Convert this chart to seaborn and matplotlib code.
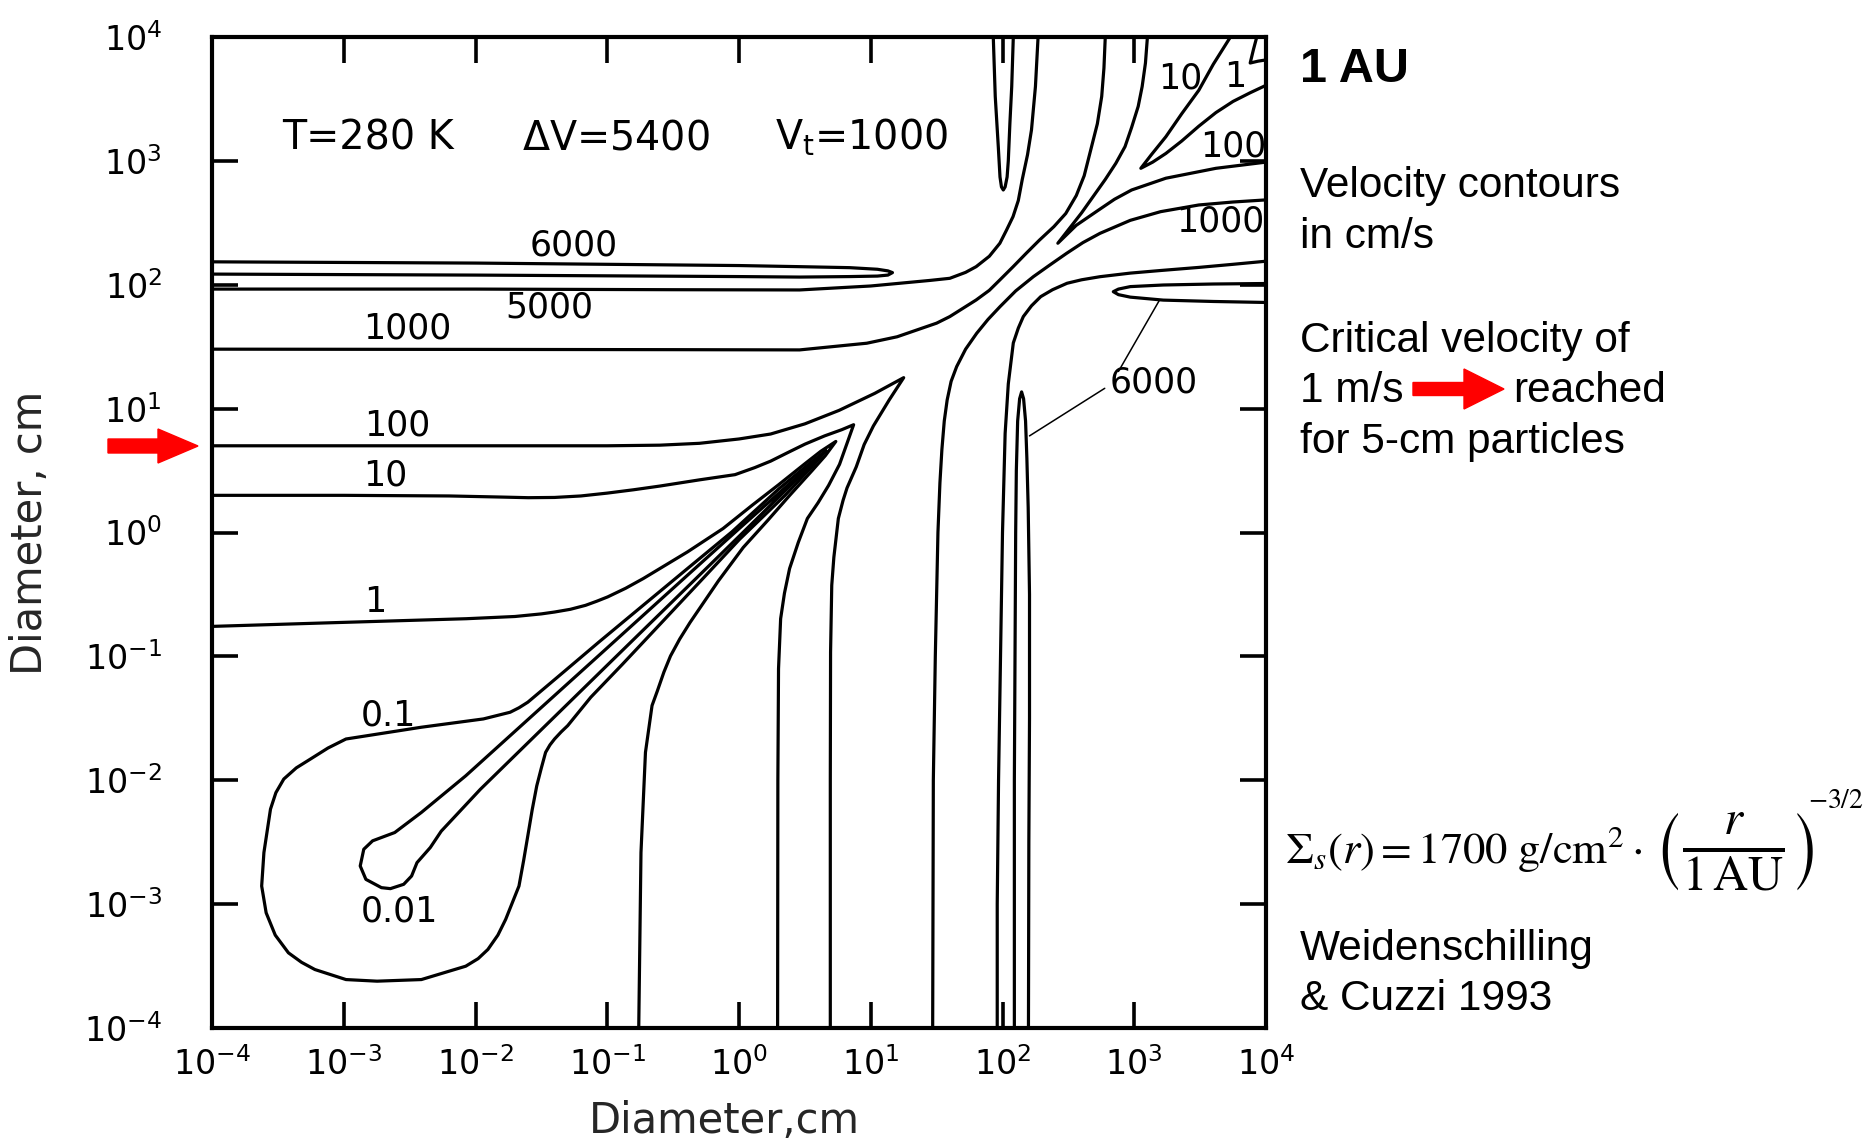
"""
Weidenschilling & Cuzzi (1993) relative velocity contours at 1 AU
"""
import numpy as np
import matplotlib
matplotlib.use("Agg")
import matplotlib.pyplot as plt
import seaborn as sns
from matplotlib.patches import FancyArrow

sns.set_theme(style="white")
plt.rcParams["font.family"] = ["DejaVu Sans"]
plt.rcParams["mathtext.fontset"] = "dejavusans"

# ── contour paths: log10(diameter / cm) ───────────────────────────────────────
# 6000 cm/s
V6000_LEFT_X = [-4, -3, -2, -1, 0, 0.46, 0.84, 1.05, 1.13, 1.165, 1.13, 1.05, 0.84, 0.46, 0, -1, -2, -3, -4]
V6000_LEFT_Y = [2.185, 2.18, 2.175, 2.165, 2.155, 2.146, 2.138, 2.125, 2.112, 2.098, 2.078, 2.07, 2.066, 2.062, 2.066, 2.072, 2.078, 2.082, 2.086]
V6000_BOT_X = [2.09, 2.09, 2.095, 2.10, 2.105, 2.115, 2.13, 2.145, 2.16, 2.175, 2.185, 2.195, 2.205, 2.205, 2.20, 2.197]
V6000_BOT_Y = [-4, -2, -1, 0, 0.5, 0.9, 1.08, 1.135, 1.08, 0.9, 0.6, 0.2, -0.5, -1.5, -2.5, -4]
V6000_TOP_X = [1.93, 1.945, 1.968, 1.981, 1.992, 2.006, 2.02, 2.035, 2.044, 2.056, 2.07, 2.082]
V6000_TOP_Y = [4, 3.52, 3.115, 2.87, 2.79, 2.765, 2.79, 2.87, 3.0, 3.3, 3.6, 4]
V6000_RIGHT_X = [4, 3.6, 3.22, 2.97, 2.88, 2.841, 2.88, 2.97, 3.22, 3.6, 4]
V6000_RIGHT_Y = [2.01, 2.006, 1.998, 1.985, 1.965, 1.944, 1.92, 1.90, 1.876, 1.865, 1.857]
# 5000 cm/s
V5000_UL_X = [-4, -2, -0.5, 0.46, 1.0, 1.22, 1.45, 1.6, 1.72, 1.8, 1.9, 1.98, 2.03, 2.08, 2.12, 2.15, 2.19, 2.22, 2.25, 2.27]
V5000_UL_Y = [1.965, 1.965, 1.96, 1.958, 1.99, 2.012, 2.035, 2.052, 2.1, 2.146, 2.23, 2.335, 2.44, 2.55, 2.68, 2.85, 3.05, 3.25, 3.6, 4.0]
V5000_LR_X = [1.96, 1.96, 1.97, 1.985, 2.0, 2.01, 2.02, 2.044, 2.082, 2.12, 2.158, 2.22, 2.29, 2.38, 2.49, 2.6, 2.74, 2.97, 3.2, 3.49, 3.75, 4.0]
V5000_LR_Y = [-4, -3, -2, -1, 0, 0.4, 0.8, 1.2, 1.53, 1.65, 1.743, 1.83, 1.904, 1.96, 2.012, 2.04, 2.065, 2.094, 2.115, 2.14, 2.165, 2.19]
# 1000 cm/s
V1000_UL_X = [-4, -2, -0.5, 0.46, 0.97, 1.2, 1.35, 1.5, 1.6, 1.7, 1.8, 1.9, 1.98, 2.08, 2.18, 2.28, 2.39, 2.48, 2.56, 2.62, 2.676, 2.72, 2.753, 2.77, 2.78]
V1000_UL_Y = [1.48, 1.478, 1.476, 1.474, 1.528, 1.58, 1.635, 1.69, 1.743, 1.81, 1.877, 1.955, 2.039, 2.145, 2.254, 2.36, 2.469, 2.575, 2.72, 2.88, 3.115, 3.3, 3.52, 3.75, 4.0]
V1000_LR_X = [1.47, 1.475, 1.49, 1.51, 1.525, 1.54, 1.558, 1.58, 1.61, 1.652, 1.72, 1.804, 1.89, 1.981, 2.1, 2.234, 2.36, 2.487, 2.61, 2.74, 2.97, 3.2, 3.49, 3.75, 4.0]
V1000_LR_Y = [-4, -2, -1, 0, 0.4, 0.67, 0.9, 1.07, 1.22, 1.339, 1.48, 1.608, 1.72, 1.823, 1.95, 2.065, 2.16, 2.254, 2.34, 2.415, 2.52, 2.59, 2.644, 2.668, 2.685]
# 100 cm/s
V100_UR_X = [3.10, 3.085, 3.06, 3.03, 2.98, 2.93, 2.86, 2.78, 2.6, 2.42, 2.56, 2.725, 2.85, 2.98, 3.24, 3.62, 4.0]
V100_UR_Y = [4.0, 3.79, 3.6, 3.44, 3.27, 3.115, 2.98, 2.85, 2.58, 2.335, 2.48, 2.60, 2.69, 2.765, 2.86, 2.94, 2.99]
V100_LL_X = [-4, -3, -2, -1, -0.6, -0.3, 0.0, 0.24, 0.5, 0.76, 1.03, 1.25, 1.14, 1.02, 0.95, 0.89, 0.82, 0.79, 0.754,
             0.72, 0.704, 0.695, 0.693, 0.693]
V100_LL_Y = [0.70, 0.70, 0.70, 0.70, 0.705, 0.72, 0.755, 0.795, 0.877, 0.986, 1.123, 1.25, 1.07, 0.86, 0.71, 0.53, 0.36, 0.26, 0.113,
             -0.2, -0.426, -0.966, -2.0, -4]
# 10 cm/s
V10_UR_X = [3.73, 3.6, 3.49, 3.36, 3.24, 3.13, 3.05, 3.14, 3.24, 3.36, 3.49, 3.62, 3.75, 3.88, 4.0]
V10_UR_Y = [4.0, 3.78, 3.57, 3.38, 3.195, 3.05, 2.94, 2.99, 3.06, 3.16, 3.28, 3.39, 3.48, 3.55, 3.61]
V10_LL_X = [-4, -3, -2.2, -1.8, -1.6, -1.4, -1.2, -1.0, -0.8, -0.6, -0.3, -0.03, 0.12, 0.24, 0.37, 0.5, 0.65, 0.78, 0.87,
            0.82, 0.763, 0.68, 0.60, 0.519, 0.45, 0.384, 0.345, 0.316, 0.30, 0.295, 0.293]
V10_LL_Y = [0.30, 0.30, 0.295, 0.286, 0.281, 0.283, 0.295, 0.318, 0.345, 0.375, 0.425, 0.467, 0.524, 0.576, 0.645, 0.713, 0.78, 0.83, 0.87,
            0.72, 0.55, 0.38, 0.24, 0.113, -0.08, -0.291, -0.49, -0.696, -1.10, -2.0, -4]
# 1 cm/s
V1_UR_X = [3.93, 3.905, 3.88, 3.94, 4.0]
V1_UR_Y = [4.0, 3.9, 3.79, 3.805, 3.815]
V1_LL_X = [-4, -3.08, -2.07, -1.7, -1.5, -1.40, -1.28, -1.165, -1.08, -0.997, -0.86, -0.727, -0.56, -0.39, -0.121, 0.1, 0.3, 0.5, 0.62, 0.735,
           0.655, 0.555, 0.385, 0.22, 0.032, -0.156, -0.265, -0.372, -0.45, -0.52, -0.57, -0.62, -0.66, -0.71, -0.744, -0.761]
V1_LL_Y = [-0.758, -0.728, -0.696, -0.678, -0.657, -0.642, -0.62, -0.588, -0.555, -0.52, -0.45, -0.372, -0.265, -0.156, 0.032, 0.22, 0.385, 0.555, 0.655, 0.735,
           0.62, 0.5, 0.3, 0.1, -0.121, -0.39, -0.56, -0.727, -0.86, -0.997, -1.127, -1.28, -1.397, -1.775, -2.584, -4]
# 0.1 cm/s (closed teardrop)
V01_X = [0.66, 0.55, 0.3, -0.054, -0.391, -0.73, -1.064, -1.33, -1.603, -1.67, -1.737, -1.94, -2.411, -2.983, -3.12,
         -3.253, -3.36, -3.455, -3.515, -3.556, -3.606, -3.623, -3.589, -3.52, -3.42, -3.32, -3.219, -2.983, -2.747,
         -2.411, -2.074, -1.98, -1.906, -1.83, -1.771, -1.67, -1.635, -1.603, -1.57, -1.535, -1.50, -1.468, -1.435,
         -1.40, -1.35, -1.30, -1.125, -0.885, -0.59, -0.291, 0.005, 0.35, 0.57, 0.66]
V01_Y = [0.66, 0.57, 0.35, 0.005, -0.291, -0.59, -0.885, -1.125, -1.37, -1.415, -1.451, -1.505, -1.572, -1.667, -1.74,
         -1.829, -1.90, -1.99, -2.10, -2.233, -2.584, -2.854, -3.07, -3.25, -3.393, -3.47, -3.528, -3.609, -3.622,
         -3.609, -3.501, -3.44, -3.366, -3.25, -3.123, -2.854, -2.65, -2.449, -2.24, -2.045, -1.9, -1.775, -1.715,
         -1.667, -1.61, -1.559, -1.33, -1.064, -0.73, -0.391, -0.054, 0.3, 0.55, 0.66]
# 0.01 cm/s (bulb with a long spike)
V001_X = [0.57, 0.3, 0.0, -0.391, -1.064, -1.737, -2.074, -2.411, -2.613, -2.781, -2.848, -2.875, -2.832, -2.714,
          -2.646, -2.545, -2.485, -2.444, -2.343, -2.26, -1.964, -1.64, -0.993, -0.345, 0.03, 0.315, 0.57]
V001_Y = [0.57, 0.315, 0.03, -0.345, -0.993, -1.64, -1.964, -2.26, -2.422, -2.489, -2.557, -2.692, -2.80, -2.867,
          -2.875, -2.84, -2.773, -2.665, -2.543, -2.411, -2.074, -1.737, -1.064, -0.391, 0.0, 0.3, 0.57]

# leader lines of the right-hand "6000" label
LEADER_A_X = [3.19, 2.88]
LEADER_A_Y = [1.873, 1.30]
LEADER_B_X = [2.205, 2.776]
LEADER_B_Y = [0.78, 1.164]

# contour labels: text, log10 x, log10 y
LABEL_TEXT = ["6000", "5000", "1000", "100", "10", "1", "0.1", "0.01",
              "10", "1", "100", "1000", "6000"]
LABEL_X = [-1.255, -1.442, -2.515, -2.591, -2.685, -2.764, -2.663, -2.579,
           3.347, 3.765, 3.752, 3.651, 3.15]
LABEL_Y = [2.315, 1.814, 1.65, 0.864, 0.457, -0.561, -1.478, -3.056,
           3.667, 3.68, 3.115, 2.51, 1.21]

PARAM_TEXT = ["T=280 K", r"$\Delta$V=5400", r"V$_{\rm t}$=1000"]
PARAM_X = [-2.815, -0.933, 0.93]
PARAM_Y = 3.09

DECADES = np.arange(-4, 5)

paths = [
    (V6000_LEFT_X, V6000_LEFT_Y), (V6000_BOT_X, V6000_BOT_Y),
    (V6000_TOP_X, V6000_TOP_Y), (V6000_RIGHT_X, V6000_RIGHT_Y),
    (V5000_UL_X, V5000_UL_Y), (V5000_LR_X, V5000_LR_Y),
    (V1000_UL_X, V1000_UL_Y), (V1000_LR_X, V1000_LR_Y),
    (V100_UR_X, V100_UR_Y), (V100_LL_X, V100_LL_Y),
    (V10_UR_X, V10_UR_Y), (V10_LL_X, V10_LL_Y),
    (V1_UR_X, V1_UR_Y), (V1_LL_X, V1_LL_Y),
    (V01_X, V01_Y), (V001_X, V001_Y),
]

W, H = 1870, 1142
fig = plt.figure(figsize=(W / 100, H / 100), dpi=100)
ax = fig.add_axes([212 / W, 1 - 1028 / H, (1266 - 212) / W, (1028 - 37) / H])
ax.set_xscale("log")
ax.set_yscale("log")

for xs, ys in paths:
    sns.lineplot(x=np.power(10.0, xs), y=np.power(10.0, ys), sort=False, estimator=None,
                 color="black", linewidth=2.3, ax=ax)
for xs, ys in [(LEADER_A_X, LEADER_A_Y), (LEADER_B_X, LEADER_B_Y)]:
    sns.lineplot(x=np.power(10.0, xs), y=np.power(10.0, ys), sort=False, estimator=None,
                 color="black", linewidth=1.1, ax=ax)

for t, lx, ly in zip(LABEL_TEXT, LABEL_X, LABEL_Y):
    ax.text(10 ** lx, 10 ** ly, t, ha="center", va="center", fontsize=25, color="black")
for t, lx in zip(PARAM_TEXT, PARAM_X):
    ax.text(10 ** lx, 10 ** PARAM_Y, t, ha="center", va="baseline", fontsize=28.5, color="black")

ax.set_xlim(1e-4, 1e4)
ax.set_ylim(1e-4, 1e4)
ax.set_xticks(10.0 ** DECADES)
ax.set_yticks(10.0 ** DECADES)
ax.set_xticklabels([rf"$10^{{{d}}}$" for d in DECADES])
ax.set_yticklabels([rf"$10^{{{d}}}$" for d in DECADES])
ax.minorticks_off()
ax.tick_params(which="major", direction="in", length=19, width=2.6, color="black",
               bottom=True, top=True, left=True, right=True, labelsize=24, labelcolor="black")
ax.tick_params(axis="x", pad=14)
ax.tick_params(axis="y", pad=36)
for sp in ax.spines.values():
    sp.set_linewidth(3.0)
    sp.set_color("black")
ax.set_xlabel("")
ax.set_ylabel("")

fig.text(724 / W, 1 - 1121 / H, "Diameter,cm", ha="center", va="center", fontsize=30)
fig.text(30 / W, 1 - 533 / H, "Diameter, cm", ha="center", va="center", fontsize=30, rotation=90)

# red arrows (inches, figure space)
fig.add_artist(FancyArrow(1.08, 6.96, 0.90, 0, width=0.14, head_width=0.34, head_length=0.40,
                          length_includes_head=True, color="red", transform=fig.dpi_scale_trans))
fig.add_artist(FancyArrow(14.13, 7.53, 0.91, 0, width=0.13, head_width=0.40, head_length=0.40,
                          length_includes_head=True, color="red", transform=fig.dpi_scale_trans))

# right-hand notes
side = dict(family=["Liberation Sans", "DejaVu Sans"], fontsize=30.5, va="baseline", ha="left", color="black")
fig.text(1300 / W, 1 - 82 / H, "1 AU", fontweight="bold", **{**side, "fontsize": 35})
fig.text(1300 / W, 1 - 197 / H, "Velocity contours", **side)
fig.text(1300 / W, 1 - 248 / H, "in cm/s", **side)
fig.text(1300 / W, 1 - 352 / H, "Critical velocity of", **side)
fig.text(1300 / W, 1 - 402 / H, "1 m/s", **side)
fig.text(1513 / W, 1 - 402 / H, "reached", **side)
fig.text(1300 / W, 1 - 453 / H, "for 5-cm particles", **side)
fig.text(1300 / W, 1 - 960 / H, "Weidenschilling", **side)
fig.text(1300 / W, 1 - 1010 / H, "& Cuzzi 1993", **side)

# surface density law, set in Times-like math
fig.text(1285 / W, 1 - 863 / H, r"$\Sigma_s(r) = 1700\ \mathrm{g/cm^2} \cdot$",
         ha="left", va="baseline", fontsize=32, math_fontfamily="stix", color="black")
fig.text(1653 / W, 1 - 852 / H, r"$\left(\frac{r}{1\,\mathrm{AU}}\right)$",
         ha="left", va="center", fontsize=50, math_fontfamily="stix", color="black")
fig.text(1808 / W, 1 - 800 / H, r"$-3/2$",
         ha="left", va="center", fontsize=20, math_fontfamily="stix", color="black")

fig.savefig("out.png", dpi=100)
